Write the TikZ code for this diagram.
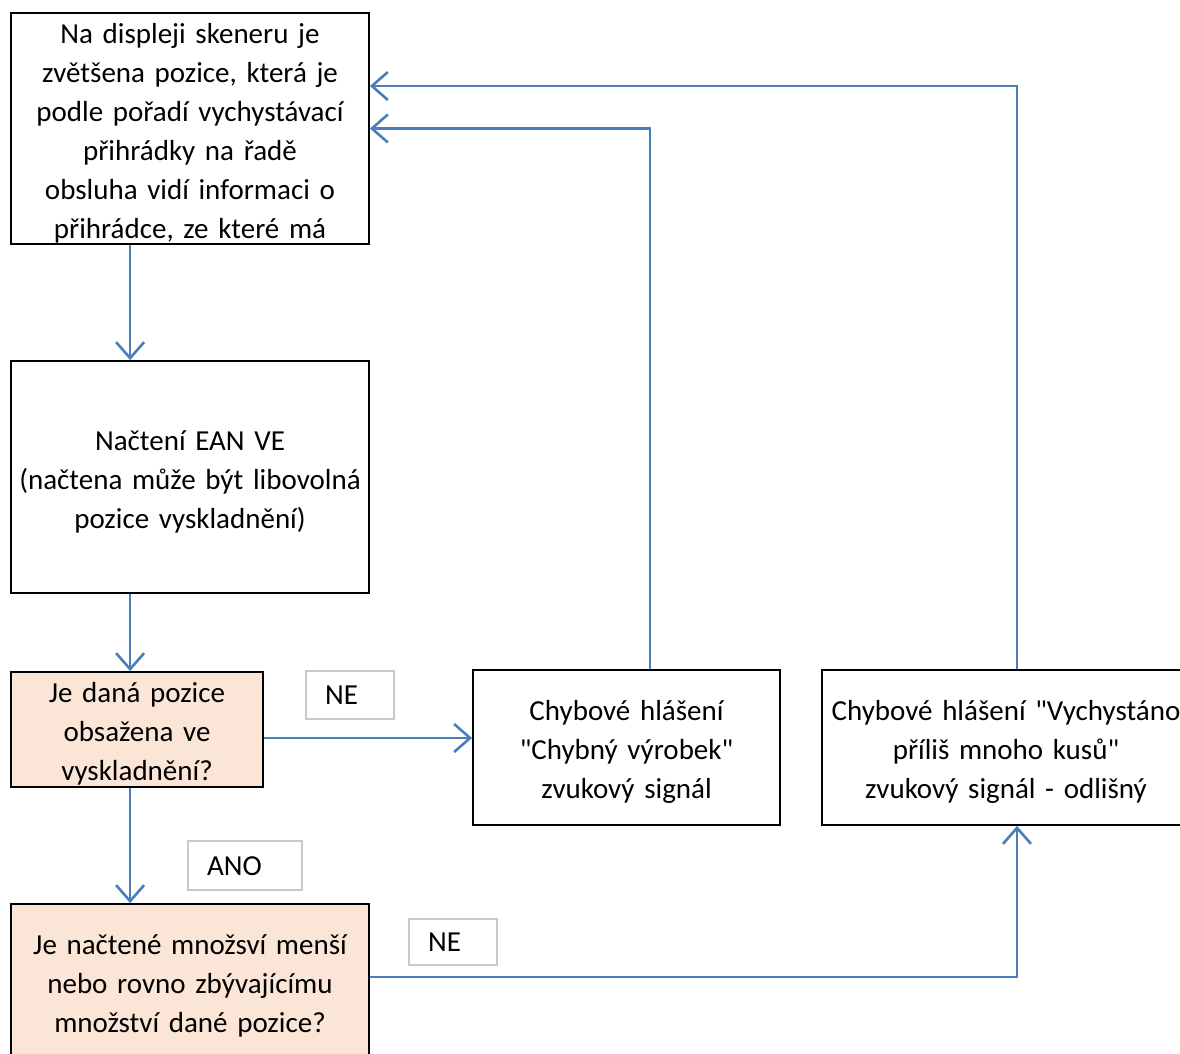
\documentclass[tikz,border=0pt]{standalone}
\usepackage{fontspec}
\setmainfont{Carlito}
\usetikzlibrary{arrows.meta,calc}
\definecolor{flowblue}{HTML}{4A7EBB}
\definecolor{peach}{HTML}{FBE5D6}
\definecolor{labelgray}{HTML}{C8C8C8}
\newcommand{\dq}{\textquotedbl}
% extra headroom on the first line of a box, as a word processor leaves it
\newcommand{\lead}{\rule{0pt}{29pt}}
\begin{document}
\begin{tikzpicture}[x=1pt,y=-1pt,
  txt/.style={font=\fontsize{29}{39}\selectfont, align=center},
  box/.style={txt, draw=black, line width=1.8pt, fill=white, inner sep=0pt},
  decision/.style={box, fill=peach},
  tag/.style={draw=labelgray, line width=1.5pt, fill=white, inner sep=0pt, anchor=north west},
  tagtext/.style={font=\fontsize{29}{39}\selectfont, anchor=west, inner sep=0pt},
  flow/.style={draw=flowblue, line width=2.6pt, -{Straight Barb[length=16pt,width=28pt,line width=2.6pt]}}]
\useasboundingbox (0,0) rectangle (1180,1054);
\clip (0,0) rectangle (1180,1054);
\fill[white] (0,0) rectangle (1180,1054);

% process boxes
\node[box, minimum width=358pt, minimum height=231pt, text width=358pt] (b1) at (190,128.5)
  {\lead Na displeji skeneru je\\ zvětšena pozice, která je\\ podle pořadí vychystávací\\ přihrádky na řadě\\ obsluha vidí informaci o\\ přihrádce, ze které má};
\node[box, minimum width=358pt, minimum height=232pt, text width=358pt] (b2) at (190,477)
  {\lead Načtení EAN VE\\ (načtena může být libovolná\\ pozice vyskladnění)};
\node[decision, minimum width=252pt, minimum height=115pt, text width=252pt] (b3) at (137,729.5)
  {\lead Je daná pozice\\ obsažena ve\\ vyskladnění?};
\node[decision, minimum width=358pt, minimum height=154pt, text width=358pt] (b4) at (190,981)
  {\lead Je načtené množsví menší\\ nebo rovno zbývajícímu\\ množství dané pozice?};
\node[box, minimum width=307pt, minimum height=155pt, text width=307pt] (b5) at (626.5,747.5)
  {\lead Chybové hlášení\\ \dq Chybný výrobek\dq\\ zvukový signál};
\node[box, minimum width=368pt, minimum height=155pt, text width=368pt] (b6) at (1006,747.5)
  {\lead Chybové hlášení \dq Vychystáno\\ příliš mnoho kusů\dq\\ zvukový signál - odlišný};

% branch labels
\node[tag, minimum width=88pt, minimum height=48pt] (ne1box) at (305,670) {};
\node[tagtext] (ne1) at ([xshift=20pt]ne1box.west) {NE};
\node[tag, minimum width=114pt, minimum height=49pt] (anobox) at (187,840) {};
\node[tagtext] (ano) at ([xshift=20pt,yshift=-1pt]anobox.west) {ANO};
\node[tag, minimum width=88pt, minimum height=46pt] (ne2box) at (408,918) {};
\node[tagtext] (ne2) at ([xshift=20pt]ne2box.west) {NE};

% connectors
\draw[flow] ([xshift=120pt]b1.south west) -- ([xshift=120pt]b2.north west);
\draw[flow] ([xshift=120pt]b2.south west) -- ([xshift=120pt]b3.north west);
\draw[flow] ([xshift=120pt]b3.south west) -- ([xshift=120pt]b4.north west);
\coordinate (n1) at ([yshift=-8.5pt]b3.east);
\draw[flow] (n1) -- (n1 -| b5.west);
\coordinate (n2) at ([yshift=4pt]b4.east);
\draw[flow] (n2) -| ([xshift=11pt]b6.south);
\draw[flow] ([xshift=23.5pt]b5.north) |- (b1.east);
\draw[flow] ([xshift=11pt]b6.north) |- ([yshift=42.5pt]b1.east);
\end{tikzpicture}
\end{document}
